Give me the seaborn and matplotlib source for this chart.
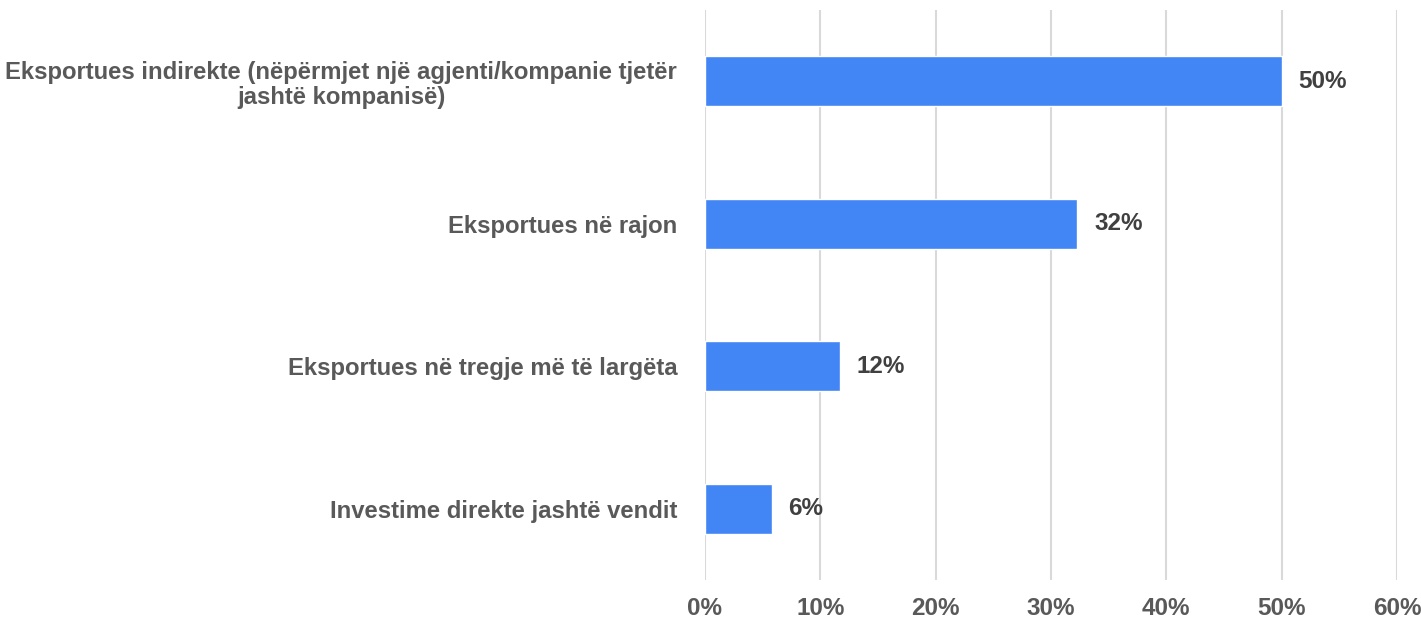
import matplotlib
matplotlib.use("Agg")
import matplotlib.pyplot as plt
import seaborn as sns
import pandas as pd
from matplotlib.ticker import FuncFormatter

categories = [
    "Eksportues indirekte (nëpërmjet një agjenti/kompanie tjetër\njashtë kompanisë)",
    "Eksportues në rajon",
    "Eksportues në tregje më të largëta",
    "Investime direkte jashtë vendit",
]
values = [50, 32.3, 11.7, 5.8]
value_labels = ["50%", "32%", "12%", "6%"]
xticks = [0, 10, 20, 30, 40, 50, 60]

sns.set_theme(style="white")
plt.rcParams['font.family'] = ['Liberation Sans', 'DejaVu Sans']

df = pd.DataFrame({"cat": categories, "val": values})

fig = plt.figure(figsize=(14.21, 6.28), dpi=100)
ax = fig.add_axes([0.4961, 0.0764, 0.4870, 0.9076])

sns.barplot(data=df, y="cat", x="val", color="#4285F4", width=0.35,
            saturation=1, ax=ax, zorder=3, orient="h")

ax.set_xlim(0, 60)
ax.set_ylim(3.5, -0.5)
ax.set_xticks(xticks)
ax.xaxis.set_major_formatter(FuncFormatter(lambda v, p: f"{int(v)}%"))
ax.grid(axis="x", color="#d9d9d9", linewidth=1.5, zorder=0)
ax.grid(axis="y", visible=False)
for s in ax.spines.values():
    s.set_visible(False)
ax.set_xlabel("")
ax.set_ylabel("")
ax.tick_params(axis="x", length=0, pad=12, labelsize=17.5, labelcolor="#595959")
ax.tick_params(axis="y", length=0, pad=20, labelsize=17.2, labelcolor="#595959")
for lab in ax.get_xticklabels() + ax.get_yticklabels():
    lab.set_fontweight("bold")
for lab in ax.get_yticklabels():
    lab.set_horizontalalignment("right")
    lab.set_multialignment("center")
    lab.set_linespacing(1.15)

for i, (v, t) in enumerate(zip(values, value_labels)):
    ax.annotate(t, (v, i), xytext=(12, 0), textcoords="offset points",
                va="center", ha="left", fontsize=17.5, fontweight="bold",
                color="#404040")

fig.savefig("out.png", dpi=100)
